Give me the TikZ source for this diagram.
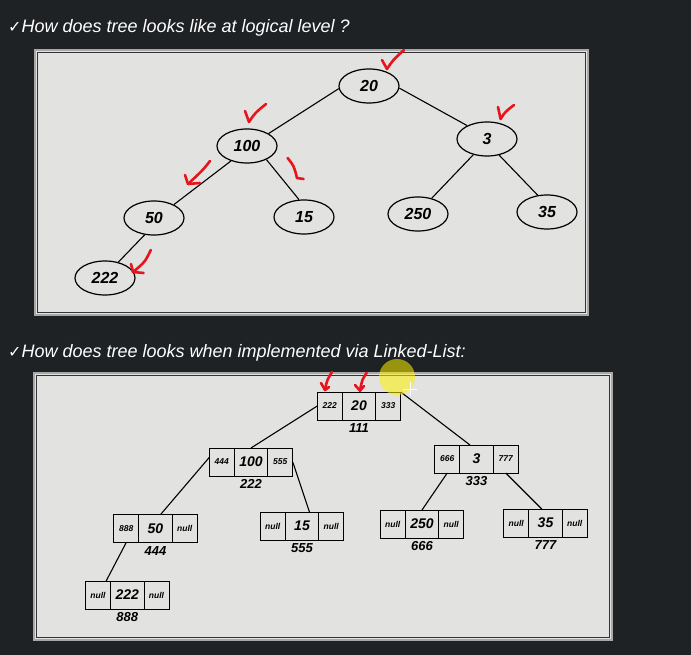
\documentclass[tikz,border=0pt]{standalone}
\usepackage{fontspec}
\setmainfont{Liberation Sans}
\newfontfamily\symfont{DejaVu Sans}
\usetikzlibrary{shapes.geometric,positioning}

\definecolor{bgdark}{HTML}{1F2225}
\definecolor{panelfill}{HTML}{E2E2E0}
\definecolor{panelrim}{HTML}{A8A8A8}
\definecolor{penred}{HTML}{E8141B}

\tikzset{
  treenode/.style={draw, line width=1.2pt, ellipse, minimum width=60pt, minimum height=34pt,
    inner sep=0pt, font=\fontsize{16}{18}\selectfont\bfseries\itshape},
  valcell/.style={draw, line width=1pt, minimum width=33.5pt, minimum height=28pt, inner sep=0pt,
    outer sep=0pt, font=\fontsize{14}{16}\selectfont\bfseries\itshape},
  ptrcell/.style={draw, line width=1pt, minimum width=25pt, minimum height=28pt, inner sep=0pt,
    outer sep=0pt, font=\fontsize{8.5}{10}\selectfont\bfseries\itshape},
  addr/.style={inner sep=1pt, font=\fontsize{13}{15}\selectfont\bfseries\itshape},
  heading/.style={anchor=base west, inner sep=0pt, text=white,
    font=\fontsize{18}{21}\selectfont\itshape},
  link/.style={line width=1.1pt},
  redpen/.style={penred, line width=2.6pt, line cap=round, line join=round},
}

% name, position, left pointer, value, right pointer, address
\newcommand{\listnode}[6]{%
  \node[valcell] (#1) at (#2) {#4};
  \node[ptrcell, left=0pt of #1] (#1-l) {#3};
  \node[ptrcell, right=0pt of #1] (#1-r) {#5};
  \node[addr, below=2.5pt of #1] (#1-a) {#6};
}

\begin{document}
\begin{tikzpicture}[x=1pt, y=-1pt]
    \fill[bgdark] (0,0) rectangle (691,655);
    \useasboundingbox (0,0) rectangle (691,655);

    % headings
    \node[heading] (head1) at (8,33) {{\symfont\fontsize{16}{18}\selectfont ✓}How does tree looks like at logical level ?};
    \node[heading] (head2) at (8,357) {{\symfont\fontsize{16}{18}\selectfont ✓}How does tree looks when implemented via Linked-List:};

    % panels
    \draw[panelrim, line width=2pt, fill=panelfill] (35,50) rectangle (588,315);
    \draw[black!80, line width=0.8pt] (37.5,52.5) rectangle (585.5,312.5);
    \draw[panelrim, line width=2pt, fill=panelfill] (34,373) rectangle (612,640);
    \draw[black!80, line width=0.8pt] (36.5,375.5) rectangle (609.5,637.5);

    % logical tree
    \node[treenode] at (369,86) (t20) {20};
    \node[treenode] at (247,146) (t100) {100};
    \node[treenode] at (487,139) (t3) {3};
    \node[treenode] at (154,218) (t50) {50};
    \node[treenode] at (304,217) (t15) {15};
    \node[treenode] at (418,214) (t250) {250};
    \node[treenode] at (547,212) (t35) {35};
    \node[treenode] at (105,278) (t222) {222};
    \draw[link] (t20.185) -- (t100.30);
    \draw[link] (t20.356) -- (t3.146);
    \draw[link] (t100.223) -- (t50.34);
    \draw[link] (t100.325) -- (t15.106);
    \draw[link] (t3.229) -- (t250.49);
    \draw[link] (t3.307) -- (t35.119);
    \draw[link] (t50.241) -- (t222.50);

    % linked-list tree
    \listnode{l20}{359,406}{222}{20}{333}{111}
    \listnode{l100}{251,462}{444}{100}{555}{222}
    \listnode{l3}{476.5,459}{666}{3}{777}{333}
    \listnode{l50}{155.5,528.5}{888}{50}{null}{444}
    \listnode{l15}{302,526}{null}{15}{null}{555}
    \listnode{l250}{422,524}{null}{250}{null}{666}
    \listnode{l35}{545.5,523}{null}{35}{null}{777}
    \listnode{l222}{127.3,595}{null}{222}{null}{888}
    \draw[link] (l20-l.west) -- (l100.north);
    \draw[link] (l20-r.north east) -- (l3.115);
    \draw[link] (l100-l.160) -- (l50.70);
    \draw[link] (l100-r.east) -- (l15.62);
    \draw[link] (l3-l.south) -- (l250.north);
    \draw[link] (l3-r.south) -- (l35.105);
    \draw[link] (l50-l.south) -- (l222-l.60);

    % red pen marks
    \draw[redpen] (382,60) .. controls (385,64) .. (387,69) .. controls (393,60) .. (404,50);
    \draw[redpen] (245,111) .. controls (247,116) .. (249,122) .. controls (255,113) .. (266,104);
    \draw[redpen] (498,107) .. controls (499,113) .. (500.6,119) .. controls (505,112) .. (514,105);
    \draw[redpen] (210,161) .. controls (203,170) .. (188,184);
    \draw[redpen] (185,175) -- (188,184) -- (200,183);
    \draw[redpen] (287.6,158) .. controls (294,166) .. (297,178) -- (303.6,179);
    \draw[redpen] (150.8,250) .. controls (145,262) .. (133,272);
    \draw[redpen] (131,264) -- (133,272) -- (143.6,273);
    \draw[redpen] (332,372) .. controls (327,380) .. (325,390);
    \draw[redpen] (321,383) -- (325,390) -- (329,387);
    \draw[redpen] (366.7,372.7) .. controls (362,380) .. (360,390.7);
    \draw[redpen] (355,385) -- (360,390.7) -- (364,386);

    % pointer
    \fill[yellow, opacity=0.55] (397,377) circle (18pt);
    \draw[white, line width=1pt] (403,389) -- (417,389) (410,382) -- (410,396);
\end{tikzpicture}
\end{document}
